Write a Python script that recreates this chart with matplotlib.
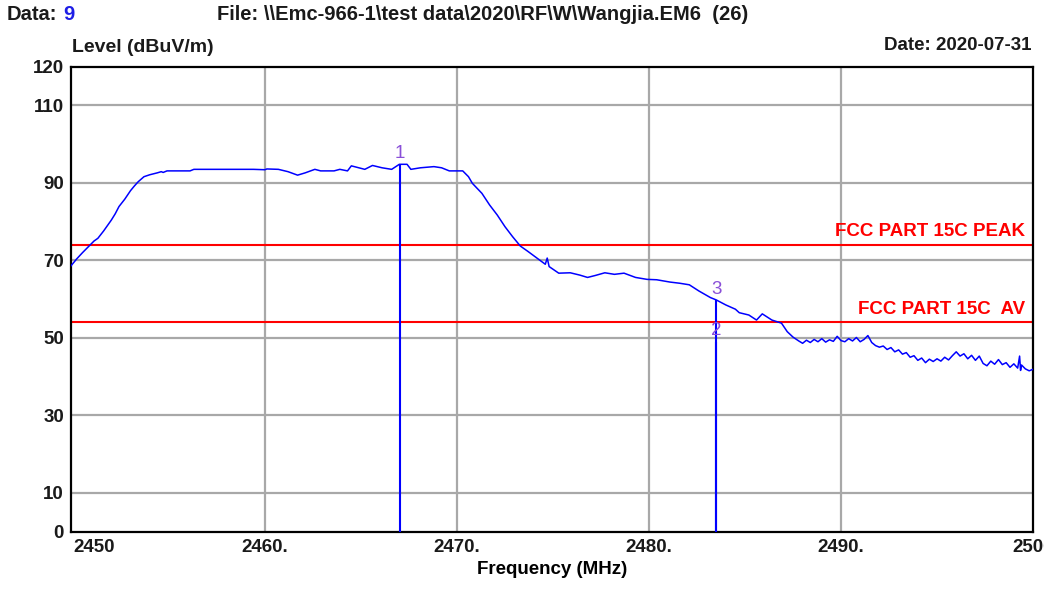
import matplotlib
matplotlib.use("Agg")
import matplotlib.pyplot as plt

plt.rcParams['font.family'] = ['Liberation Sans', 'DejaVu Sans']

# measured trace (MHz, dBuV/m)
freq_mhz = [
    2449.9, 2450.2, 2450.5, 2450.8, 2451.1, 2451.3, 2451.6, 2452.0, 2452.2, 2452.4,
    2452.7, 2453.0, 2453.2, 2453.4, 2453.7, 2454.0, 2454.4, 2454.6, 2454.7, 2454.9,
    2456.1, 2456.3, 2459.4, 2460.0, 2460.1, 2460.7, 2461.2, 2461.7, 2462.1, 2462.6,
    2462.9, 2463.6, 2463.9, 2464.3, 2464.5, 2464.9, 2465.2, 2465.6, 2466.1, 2466.6,
    2467.0, 2467.4, 2467.6, 2468.1, 2468.8, 2469.2, 2469.6, 2470.3, 2470.6, 2470.8,
    2471.3, 2471.7, 2472.1, 2472.5, 2472.9, 2473.3, 2473.7, 2474.0, 2474.3, 2474.6,
    2474.7, 2474.8, 2475.3, 2475.9, 2476.4, 2476.8, 2477.2, 2477.7, 2478.2, 2478.7,
    2479.3, 2479.9, 2480.4, 2481.1, 2481.6, 2482.1, 2482.6, 2483.2, 2483.5, 2484.0,
    2484.5, 2484.7, 2485.2, 2485.6, 2485.9, 2486.4, 2486.9, 2487.2, 2487.5,
    2487.8, 2488.0, 2488.2, 2488.4, 2488.6, 2488.8, 2489.0, 2489.2, 2489.4, 2489.6,
    2489.8, 2490.0, 2490.2, 2490.4, 2490.6, 2490.8, 2491.0, 2491.2, 2491.4, 2491.6,
    2491.8, 2492.0, 2492.2, 2492.4, 2492.6, 2492.8, 2493.0, 2493.2, 2493.4, 2493.6,
    2493.8, 2494.0, 2494.2, 2494.4, 2494.6, 2494.8, 2495.0, 2495.2, 2495.4, 2495.6,
    2495.8, 2496.0, 2496.2, 2496.4, 2496.6, 2496.8, 2497.0, 2497.2, 2497.4, 2497.6,
    2497.8, 2498.0, 2498.2, 2498.4, 2498.6, 2498.8, 2499.0, 2499.2, 2499.3, 2499.35,
    2499.4, 2499.6, 2499.8, 2500.0,
]
level_dbuv = [
    68.6, 70.4, 72.0, 73.5, 75.0, 75.7, 77.6, 80.4, 82.0, 83.9,
    85.8, 88.0, 89.2, 90.3, 91.6, 92.1, 92.6, 92.9, 92.7, 93.1,
    93.1, 93.5, 93.5, 93.4, 93.6, 93.5, 92.9, 92.0, 92.6, 93.5,
    93.1, 93.1, 93.5, 93.1, 94.4, 93.9, 93.5, 94.5, 93.9, 93.5,
    94.8, 94.8, 93.5, 93.9, 94.2, 93.9, 93.1, 93.1, 91.6, 89.9,
    87.3, 84.3, 81.7, 78.7, 76.1, 73.7, 72.3, 71.2, 70.1, 69.0,
    70.6, 68.4, 66.7, 66.8, 66.2, 65.6, 66.1, 66.8, 66.4, 66.7,
    65.6, 65.1, 65.0, 64.4, 64.1, 63.7, 62.1, 60.4, 59.8, 58.5,
    57.4, 56.5, 55.9, 54.6, 56.2, 54.6, 53.8, 51.6, 50.2,
    49.2, 48.6, 49.4, 48.8, 49.6, 49.0, 49.8, 48.9, 49.5, 49.1,
    50.4, 49.3, 49.0, 49.8, 49.2, 50.1, 49.0, 49.6, 50.6, 48.8,
    48.0, 47.6, 47.9, 47.0, 47.5, 46.4, 46.9, 45.8, 46.2, 45.0,
    45.4, 44.2, 44.8, 43.6, 44.5, 43.9, 44.6, 44.0, 45.0, 44.3,
    45.4, 46.4, 45.3, 45.9, 44.6, 45.5, 44.2, 45.3, 43.4, 42.8,
    44.0, 43.2, 44.4, 43.1, 43.6, 42.4, 43.3, 42.2, 45.3, 41.6,
    43.0, 42.0, 41.5, 41.9,
]

limit_names = ["FCC PART 15C PEAK", "FCC PART 15C  AV"]
limit_levels = [74, 54]

marker_ids = ["1", "2", "3"]
marker_freq = [2467.02, 2483.5, 2483.5]
marker_level = [94.8, 49.0, 59.8]

x_ticks = [2450, 2460, 2470, 2480, 2490, 2500]
x_tick_labels = ["2450", "2460.", "2470.", "2480.", "2490.", "2500"]
y_ticks = [0, 10, 30, 50, 70, 90, 110, 120]
grid_y = [10, 30, 50, 70, 90, 110]
grid_x = [2460, 2470, 2480, 2490]

fig = plt.figure(figsize=(10.44, 5.9), dpi=100)
ax = fig.add_axes([0.068, 0.099, 0.9215, 0.788])

for g in grid_y:
    ax.axhline(g, color='#a8a8a8', lw=1.6, zorder=1)
for g in grid_x:
    ax.axvline(g, color='#a8a8a8', lw=1.6, zorder=1)

for name, lv in zip(limit_names, limit_levels):
    ax.axhline(lv, color='#ff0000', lw=1.5, zorder=2)
    ax.text(2499.6, lv + 1.2, name, color='#ff0000', fontsize=13.5,
            fontweight='bold', ha='right', va='bottom', zorder=4)

ax.plot(freq_mhz, level_dbuv, color='#0000ff', lw=1.1, zorder=3)

for mid, mf, ml in zip(marker_ids, marker_freq, marker_level):
    ax.vlines(mf, 0, max(ml, 0), color='#0000ff', lw=1.5, zorder=3)
    ax.text(mf, ml + 0.6, mid, color='#8a4fd8', fontsize=13.5,
            ha='center', va='bottom', zorder=4)

ax.set_xlim(2449.9, 2500)
ax.set_ylim(0, 120)
ax.set_xticks(x_ticks)
ax.set_xticklabels(x_tick_labels)
ax.set_yticks(y_ticks)
ax.tick_params(length=0, labelsize=13.5, pad=5)
for lab in ax.get_xticklabels() + ax.get_yticklabels():
    lab.set_fontweight('bold')
    lab.set_color('#1a1a1a')
ax.get_xticklabels()[0].set_ha('left')
for s in ax.spines.values():
    s.set_linewidth(1.6)
    s.set_color('black')

ax.set_xlabel("Frequency (MHz)", fontsize=13.5, fontweight='bold', labelpad=4)

fig.text(7 / 1044, 1 - 15 / 590, "Data:", fontsize=14.5, fontweight='bold',
         va='center', ha='left', color='#1a1a1a')
fig.text(63 / 1044, 1 - 15 / 590, "9", fontsize=14.5, fontweight='bold',
         va='center', ha='left', color='#1e1ee6')
fig.text(217 / 1044, 1 - 15 / 590,
         "File: \\\\Emc-966-1\\test data\\2020\\RF\\W\\Wangjia.EM6  (26)",
         fontsize=14.5, fontweight='bold', va='center', ha='left', color='#1a1a1a')
fig.text(72 / 1044, 1 - 47 / 590, "Level (dBuV/m)", fontsize=14,
         fontweight='bold', va='center', ha='left', color='#1a1a1a')
fig.text(1031 / 1044, 1 - 45 / 590, "Date: 2020-07-31", fontsize=13.5,
         fontweight='bold', va='center', ha='right', color='#1a1a1a')

fig.savefig("out.png", dpi=100)
